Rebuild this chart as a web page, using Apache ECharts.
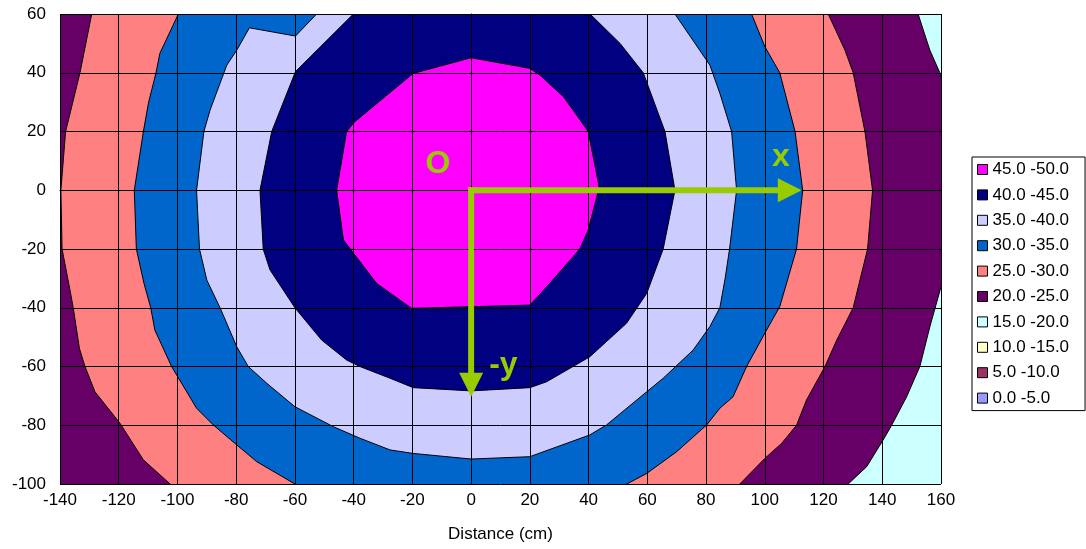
<!DOCTYPE html>
<html><head><meta charset="utf-8">
<script src="https://cdn.jsdelivr.net/npm/echarts@6/dist/echarts.min.js"></script>
<style>html,body{margin:0;padding:0;background:#fff}#c{width:1086px;height:549px}</style>
</head><body><div id="c"></div>
<script>
// ---- Legend bands (top to bottom) ----
const bandLabels = ['45.0 -50.0','40.0 -45.0','35.0 -40.0','30.0 -35.0','25.0 -30.0','20.0 -25.0','15.0 -20.0','10.0 -15.0','5.0 -10.0','0.0 -5.0'];
const bandColors = ['#FF00FF','#000080','#CCCCFF','#0066CC','#FF8080','#660066','#CCFFFF','#FFFFCC','#993366','#9999FF'];

// ---- Contour lines, [x (cm), y (cm)] ----
const c20 = [[150.2,66],[152.2,60],[156.2,47.7],[159.6,40],[162,30],[164,0],[162.5,-25],[160.5,-31.1],[156.2,-46.5],[152.8,-60],[148.3,-70.3],[143.2,-80],[140.3,-85],[134.7,-94.1],[128.4,-100],[123,-105]];
const c25Left = [[-128,66],[-129.2,60],[-133.2,40],[-138.1,20],[-139.7,0],[-139.3,-20],[-136.6,-34],[-135.5,-40],[-133.4,-53.8],[-131.5,-60],[-128.1,-68.6],[-119.6,-79.3],[-111.6,-91.8],[-102.5,-100],[-97,-105]];
const c25Right = [[119,66],[121.6,60],[127.3,47.7],[130.1,40],[134.1,20],[136.7,0],[135,-20],[130.1,-40],[124.5,-51],[120.5,-60],[114.2,-71.4],[110.8,-80],[105.7,-86.2],[100,-91.3],[91.5,-100],[86,-105]];
const c30Left = [[-97,66],[-99.7,60],[-106,46.6],[-107.3,40],[-109.9,29.6],[-111.6,20],[-114.7,0],[-114,-20],[-111.4,-31.7],[-109.1,-40],[-107.7,-47.6],[-102,-60],[-93.5,-74.2],[-87.8,-79.9],[-79.8,-86.7],[-73,-92.4],[-60,-100],[-52,-105]];
const c30Right = [[93,66],[95.5,60],[100,48.9],[105.1,40],[110.3,20],[112.9,0],[110.8,-20],[105.1,-39.6],[100.6,-47.6],[93.8,-60],[89.2,-70.3],[84.7,-74.2],[80.2,-79.9],[70,-89],[59.8,-96.4],[53,-100],[45,-104]];
const c35 = [[-46.9,66],[-52.6,60],[-59.8,52.5],[-75.5,55.3],[-79.8,47.7],[-83.2,42.6],[-88.9,27.3],[-91,20],[-93.5,0],[-92.5,-20],[-90,-30.6],[-85.5,-40],[-79.8,-53.3],[-75.9,-60],[-69.6,-65.7],[-60,-73.7],[-46.9,-80.5],[-37.9,-84.4],[-27.6,-88.4],[-19.7,-89.6],[0,-91.5],[20,-90.7],[40.4,-83.3],[46.1,-79.9],[59.8,-68.6],[65.4,-64],[75.6,-54.4],[81.3,-46.4],[84.7,-40],[86.5,-30],[88,-20],[90.4,0],[88.7,20],[84.7,33],[81.3,42.6],[69.4,60],[65.3,66]];
const c40 = [[-34,66],[-40.1,60],[-59.8,40.4],[-67.9,20],[-71.9,0],[-70.8,-20],[-68.5,-27.1],[-60,-40],[-50.9,-51],[-42.4,-57.8],[-37.9,-60],[-27.6,-64],[-19.7,-67.2],[0,-68.3],[20,-67.2],[25.7,-65.2],[40.4,-56.7],[52.9,-45.3],[59.8,-35.1],[65.4,-20],[69.4,0],[66,20],[58.6,40],[50.7,50],[40.5,60],[34.4,66]];
const c45 = [[-45.8,0],[-42.4,20],[-40,23],[-19.7,39.8],[0,45.1],[20,41.5],[23.4,39.2],[31.4,31.9],[39.9,20],[43.6,1],[39.9,-13.5],[37,-20],[26.8,-31.7],[20,-39.1],[-20.3,-40.2],[-32.2,-31.7],[-43.5,-16.9]];

// ---- Annotations ----
const arrowOrigin = [0,0];
const arrowEnds = [[112.6,0],[0,-70.3]];
const annotationTexts = ['O','x','-y'];
const annotationPos = [[-11.3,8.9],[105.5,11.2],[11,-59.5]];

// outside-of-plot closing corners
const OUT = {l:-150, r:170, t:70, b:-110};
const polygons = {
  '15.0 -20.0': [[OUT.l,OUT.t],[OUT.r,OUT.t],[OUT.r,OUT.b],[OUT.l,OUT.b]],
  '20.0 -25.0': [[OUT.l,OUT.t]].concat(c20, [[OUT.l,OUT.b]]),
  '25.0 -30.0': c25Left.concat(c25Right.slice().reverse()),
  '30.0 -35.0': c30Left.concat(c30Right.slice().reverse()),
  '35.0 -40.0': c35,
  '40.0 -45.0': c40,
  '45.0 -50.0': c45
};
const drawOrder = ['15.0 -20.0','20.0 -25.0','25.0 -30.0','30.0 -35.0','35.0 -40.0','40.0 -45.0','45.0 -50.0'];

const FONT = '"Liberation Sans", Arial, sans-serif';
const GREEN = '#99CC00';

const series = [];
drawOrder.forEach((name, k) => {
  const color = bandColors[bandLabels.indexOf(name)];
  const pts = polygons[name];
  series.push({
    type:'custom', name, coordinateSystem:'cartesian2d', clip:true, z:2, silent:true,
    itemStyle:{color},
    data: pts,
    renderItem(params, api) {
      if (params.dataIndex !== 0) return null;
      const points = pts.map(p => api.coord(p));
      return {type:'polygon', z2:k, shape:{points},
        style:{fill:color, stroke: k === 0 ? null : '#000', lineWidth:1}};
    }
  });
});
bandLabels.forEach((name, i) => {
  if (!polygons[name]) {
    series.push({type:'custom', name, coordinateSystem:'cartesian2d', itemStyle:{color:bandColors[i]},
      data:[], renderItem(){ return null; }});
  }
});
series.push({
  type:'custom', name:'arrows', coordinateSystem:'cartesian2d', z:5, silent:true,
  data: arrowEnds,
  renderItem(params, api) {
    const s = api.coord(arrowOrigin);
    const e = api.coord([api.value(0), api.value(1)]);
    const dx = e[0]-s[0], dy = e[1]-s[1];
    const len = Math.hypot(dx, dy), ux = dx/len, uy = dy/len;
    const HL = 24, HW = 12;
    const bx = e[0]-ux*HL, by = e[1]-uy*HL;
    return {type:'group', children:[
      {type:'line', shape:{x1:s[0]-ux*3, y1:s[1]-uy*3, x2:bx+ux*1, y2:by+uy*1}, style:{stroke:GREEN, lineWidth:6}},
      {type:'polygon', shape:{points:[[e[0],e[1]],[bx-uy*HW, by+ux*HW],[bx+uy*HW, by-ux*HW]]}, style:{fill:GREEN}}
    ]};
  }
});
series.push({
  type:'custom', name:'labels', coordinateSystem:'cartesian2d', z:6, silent:true,
  data: annotationPos,
  renderItem(params, api) {
    const p = api.coord([api.value(0), api.value(1)]);
    return {type:'text', x:p[0], y:p[1], style:{text:annotationTexts[params.dataIndex], fill:GREEN,
      fontSize:32, fontWeight:'bold', fontFamily:FONT, align:'center', verticalAlign:'middle'}};
  }
});

const chart = echarts.init(document.getElementById('c'), null, {renderer:'canvas'});
chart.setOption({
  animation:false,
  backgroundColor:'#fff',
  textStyle:{fontFamily:FONT},
  grid:{left:60, top:14, width:881, height:470, containLabel:false, outerBoundsMode:'none', show:false},
  xAxis:{type:'value', min:-140, max:160, interval:20, z:3,
    name:'Distance (cm)', nameLocation:'middle', nameGap:42,
    nameTextStyle:{fontSize:17, color:'#000', fontFamily:FONT},
    axisLine:{show:true, lineStyle:{color:'#000', width:1}},
    axisTick:{show:false},
    axisLabel:{fontSize:17, color:'#000', margin:8, fontFamily:FONT},
    splitLine:{show:true, showMinLine:true, showMaxLine:true, lineStyle:{color:'#000', width:1}}},
  yAxis:{type:'value', min:-100, max:60, interval:20, z:3,
    axisLine:{show:true, lineStyle:{color:'#000', width:1}},
    axisTick:{show:false},
    axisLabel:{fontSize:17, color:'#000', margin:14, fontFamily:FONT},
    splitLine:{show:true, showMinLine:true, showMaxLine:true, lineStyle:{color:'#000', width:1}}},
  legend:{
    orient:'vertical', left:972, top:157,
    padding:[4,16,4,5], itemGap:8.4, itemWidth:10, itemHeight:10,
    borderColor:'#000', borderWidth:1, backgroundColor:'#fff',
    selectedMode:false,
    icon:'rect',
    itemStyle:{borderColor:'#000', borderWidth:1},
    textStyle:{fontSize:17, color:'#000', fontFamily:FONT, lineHeight:17},
    data: bandLabels.map(n => ({name:n, icon:'rect'}))
  },
  series
});
</script></body></html>
